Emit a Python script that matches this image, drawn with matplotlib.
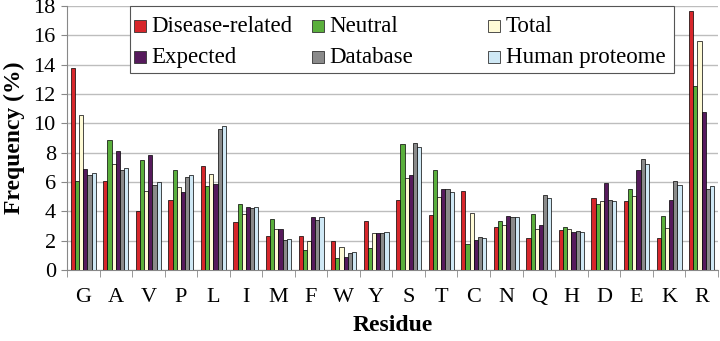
import numpy as np
import matplotlib.pyplot as plt
from matplotlib.patches import Rectangle

# residue frequencies (%) per data set
residues = ["G", "A", "V", "P", "L", "I", "M", "F", "W", "Y",
            "S", "T", "C", "N", "Q", "H", "D", "E", "K", "R"]
disease = [13.8, 6.1, 4.0, 4.8, 7.1, 3.25, 2.3, 2.3, 2.0, 3.35,
           4.75, 3.75, 5.4, 2.95, 2.2, 2.75, 4.9, 4.7, 2.2, 17.7]
neutral = [6.1, 8.9, 7.5, 6.8, 5.75, 4.5, 3.5, 1.4, 0.85, 1.5,
           8.6, 6.85, 1.75, 3.35, 3.85, 2.95, 4.5, 5.55, 3.7, 12.55]
total = [10.6, 7.2, 5.4, 5.65, 6.55, 3.8, 2.8, 2.0, 1.55, 2.55,
         6.3, 5.0, 3.9, 3.05, 2.8, 2.8, 4.7, 5.05, 2.85, 15.6]
expected = [6.9, 8.1, 7.85, 5.3, 5.9, 4.3, 2.8, 3.6, 0.9, 2.5,
            6.5, 5.55, 2.05, 3.7, 3.05, 2.6, 5.95, 6.85, 4.8, 10.75]
database = [6.5, 6.8, 5.8, 6.35, 9.65, 4.2, 2.05, 3.4, 1.15, 2.5,
            8.65, 5.55, 2.25, 3.65, 5.1, 2.65, 4.8, 7.6, 6.1, 5.55]
human = [6.6, 6.95, 6.0, 6.45, 9.85, 4.3, 2.15, 3.6, 1.25, 2.6,
         8.4, 5.35, 2.2, 3.6, 4.9, 2.6, 4.7, 7.25, 5.8, 5.75]

series = [disease, neutral, total, expected, database, human]
names = ["Disease-related", "Neutral", "Total", "Expected", "Database", "Human proteome"]
colors = ["#d7262b", "#5aaf3c", "#fffbd6", "#561a5c", "#8a8a8a", "#cfe8f5"]

plt.rcParams["font.family"] = "Liberation Serif"

fig = plt.figure(figsize=(7.2, 3.41), dpi=100)
ax = fig.add_axes([0.093, 0.208, 0.904, 0.774])

x = np.arange(len(residues))
w = 0.128
for i, (vals, nm, c) in enumerate(zip(series, names, colors)):
    ax.bar(x + (i - 2.5) * w, vals, w, color=c, edgecolor="black",
           linewidth=0.5, label=nm, zorder=3)

ax.set_xlim(-0.5, len(residues) - 0.5)
ax.set_ylim(0, 18)
ax.set_yticks(range(0, 19, 2))
ax.grid(axis="y", color="#bdbdbd", linewidth=1.0, zorder=0)

# category labels sit between minor ticks on the group borders
ax.set_xticks(x)
ax.set_xticklabels(residues, fontsize=16)
ax.tick_params(axis="x", length=0, pad=13)
ax.set_xticks(np.arange(-0.5, len(residues), 1), minor=True)
ax.tick_params(axis="x", which="minor", length=5, color="#888888")
ax.tick_params(axis="y", labelsize=16, length=4, color="#888888", pad=4)

for s in ["top", "right"]:
    ax.spines[s].set_visible(False)
ax.spines["left"].set_color("#888888")
ax.spines["bottom"].set_color("#888888")

ax.set_xlabel("Residue", fontsize=17, fontweight="bold", labelpad=6)
ax.set_ylabel("Frequency (%)", fontsize=17, fontweight="bold", labelpad=6)

# legend box with equal-width columns, filled row by row
tr = ax.transAxes
ax.add_patch(Rectangle((0.097, 0.746), 0.835, 0.254, transform=tr,
                       facecolor="white", edgecolor="#555555", linewidth=0.8,
                       zorder=5, clip_on=False))
col_x = [0.103, 0.376, 0.647]
row_y = [0.924, 0.807]
sq_w, sq_h = 0.019, 0.047
for k, (nm, c) in enumerate(zip(names, colors)):
    cx = col_x[k % 3]
    cy = row_y[k // 3]
    ax.add_patch(Rectangle((cx, cy - sq_h / 2), sq_w, sq_h, transform=tr,
                           facecolor=c, edgecolor="#333333", linewidth=0.6,
                           zorder=6, clip_on=False))
    ax.text(cx + sq_w + 0.008, cy, nm, transform=tr, fontsize=16.5,
            va="center", ha="left", zorder=6)

fig.savefig("out.png")
